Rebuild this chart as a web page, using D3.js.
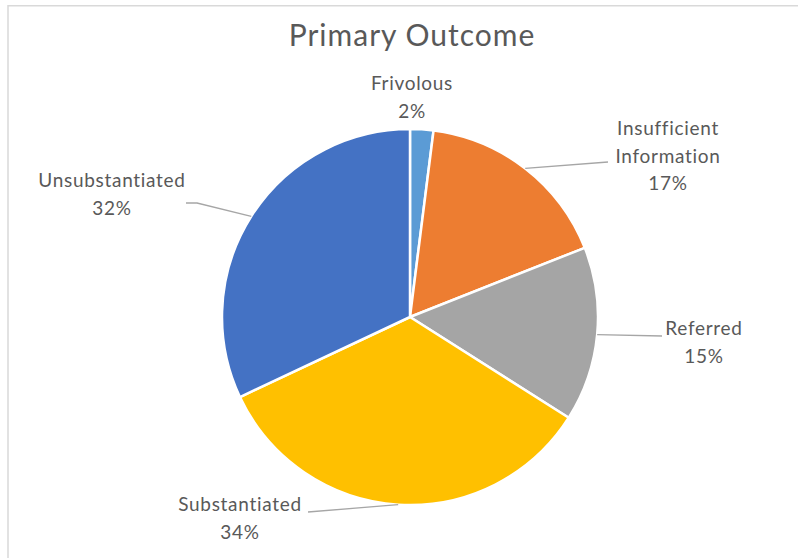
<!DOCTYPE html>
<html>
<head>
<meta charset="utf-8">
<script src="https://cdn.jsdelivr.net/npm/d3@7"></script>
<style>
  html, body { margin: 0; padding: 0; background: #fff; }
  svg { display: block; }
  text { font-family: Lato, "Open Sans", sans-serif; fill: #595959; }
</style>
</head>
<body>
<svg id="chart" width="798" height="558"></svg>
<script>
// Share of cases by primary outcome (percent)
const categories = ["Frivolous", "Insufficient Information", "Referred", "Substantiated", "Unsubstantiated"];
const values = [2, 17, 15, 34, 32];
const colors = ["#5B9BD5", "#ED7D31", "#A5A5A5", "#FFC000", "#4472C4"];
const title = "Primary Outcome";

// Label placement: text lines, block centre x, first baseline y, leader end point
const labelLayout = [
  { lines: ["Frivolous"], x: 412, y: 90, leader: null },
  { lines: ["Insufficient", "Information"], x: 668, y: 135, leader: [608, 162] },
  { lines: ["Referred"], x: 704, y: 335, leader: [662, 336] },
  { lines: ["Substantiated"], x: 240, y: 511, leader: [308, 512] },
  { lines: ["Unsubstantiated"], x: 112, y: 187, leader: [186, 203], elbow: [197, 203] }
];

const W = 798, H = 558;
const cx = 410, cy = 317, R = 188;
const lineGap = 27.5;

const svg = d3.select("#chart");

// Chart area frame
svg.append("path")
  .attr("d", `M8,${H + 2} V5.75 H${W + 2}`)
  .attr("fill", "none")
  .attr("stroke", "#d9d9d9")
  .attr("stroke-width", 1.5);

svg.append("text")
  .attr("x", 412).attr("y", 46)
  .attr("text-anchor", "middle")
  .style("font-size", "30px")
  .style("letter-spacing", "1px")
  .text(title);

const data = categories.map((c, i) => ({ name: c, value: values[i], color: colors[i], layout: labelLayout[i] }));

const pie = d3.pie().value(d => d.value).sort(null);
const arcs = pie(data);
const arc = d3.arc().innerRadius(0).outerRadius(R);

const g = svg.append("g").attr("transform", `translate(${cx},${cy})`);

g.selectAll("path.slice")
  .data(arcs)
  .join("path")
  .attr("class", "slice")
  .attr("d", arc)
  .attr("fill", d => d.data.color)
  .attr("stroke", "#fff")
  .attr("stroke-width", 2.5)
  .attr("stroke-linejoin", "round");

const total = d3.sum(values);
const pct = d3.format(".0%");

// Leader lines from the slice edge at its mid-angle
arcs.forEach(a => {
  const L = a.data.layout;
  if (!L.leader) return;
  const mid = (a.startAngle + a.endAngle) / 2;
  const sx = cx + R * Math.sin(mid), sy = cy - R * Math.cos(mid);
  const pts = [[sx, sy]];
  if (L.elbow) pts.push(L.elbow);
  pts.push(L.leader);
  svg.append("path")
    .attr("d", d3.line()(pts.reverse()))
    .attr("fill", "none")
    .attr("stroke", "#a6a6a6")
    .attr("stroke-width", 1.3);
});

// Category labels with percentage underneath
arcs.forEach(a => {
  const L = a.data.layout;
  const t = svg.append("text")
    .attr("text-anchor", "middle")
    .style("font-size", "19px")
    .style("letter-spacing", "0.7px");
  const lines = L.lines.concat([pct(a.data.value / total)]);
  lines.forEach((s, i) => {
    t.append("tspan").attr("x", L.x).attr("y", L.y + i * lineGap).text(s);
  });
});
</script>
</body>
</html>
